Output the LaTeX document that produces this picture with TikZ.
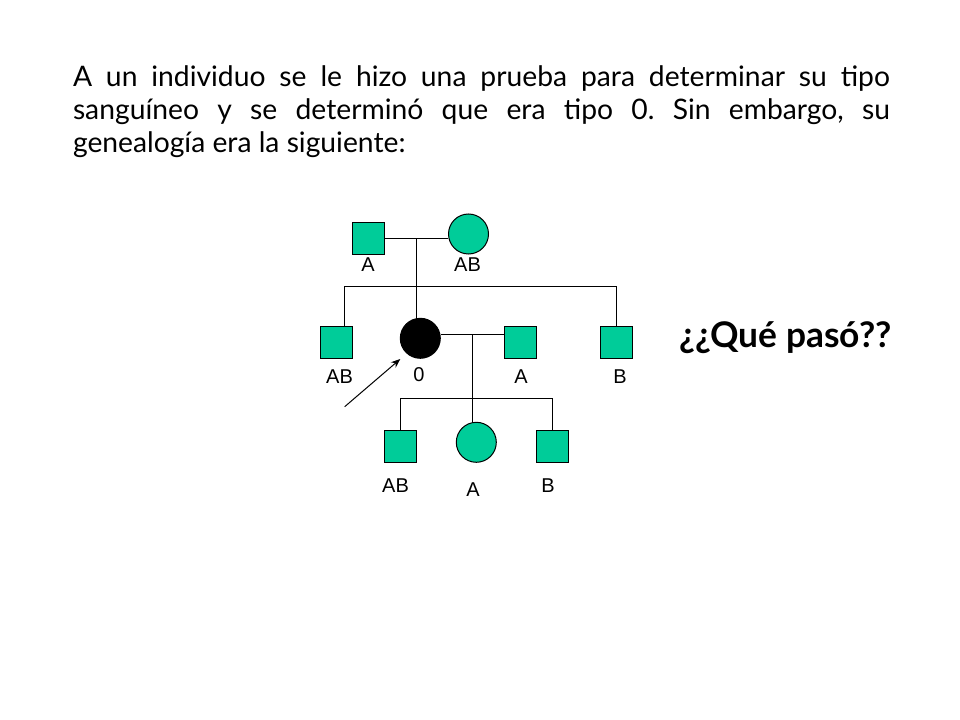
\documentclass[tikz,border=0pt]{standalone}
\usepackage{fontspec}
\setmainfont{Liberation Sans}
\newfontfamily\handfont{Lato}
\usetikzlibrary{arrows.meta}
\definecolor{pedgreen}{RGB}{0,204,153}
\tikzset{
  male/.style={draw,fill=pedgreen,minimum size=24pt,inner sep=0pt,line width=.75pt},
  female/.style={draw,circle,fill=pedgreen,minimum size=30pt,inner sep=0pt,line width=.75pt},
  proband/.style={female,fill=black},
  bloodtype/.style={font=\fontsize{15}{17}\selectfont,inner sep=0pt},
  link/.style={line width=.75pt}
}
\begin{document}
\begin{tikzpicture}[x=.75pt,y=-.75pt]
\useasboundingbox (0,0) rectangle (960,720);
\node (intro) at (481.5,111.5) [text width=612.75pt,align=justify,inner sep=0pt,
  font=\handfont\fontsize{21.2}{24.6}\selectfont]{\frenchspacing A un individuo se le hizo una prueba para determinar su tipo\linebreak
sanguíneo y se determinó que era tipo 0. Sin embargo, su\linebreak
genealogía era la siguiente:};
\node (question) at (785.5,338) [inner sep=0pt,font=\handfont\bfseries\fontsize{26.5}{30}\selectfont]{¿¿Qué pasó??};
% first generation
\node (fatherA) at (368.3,238.3) [male]{};
\node (motherAB) at (468.5,234) [female]{};
% second generation
\node (sonAB) at (336.7,342.3) [male]{};
\node (index) at (420.3,338.3) [proband]{};
\node (husbandA) at (520.3,342.3) [male]{};
\node (sonB) at (616.3,342.3) [male]{};
% third generation
\node (kidAB) at (400.3,446.3) [male]{};
\node (kidA) at (476.3,442.3) [female]{};
\node (kidB) at (552.3,446.3) [male]{};
% junctions
\coordinate (union1) at (416.7,238.3);
\coordinate (bar1) at (416.7,286.7);
\coordinate (union2) at (472.3,334.3);
\coordinate (bar2) at (472.3,398.3);
\coordinate (sonABtop) at (344.7,326.3);
\coordinate (pointer) at (344.7,406.7);
\coordinate (pointertip) at (400.3,359);
% connectors
\draw[link] (fatherA.east)--(union1)--(union1-|motherAB.west);
\draw[link] (union1)--(bar1)--(bar1|-index.north);
\draw[link] (sonABtop)--(sonABtop|-bar1)--(sonB.north|-bar1)--(sonB.north);
\draw[link] (union2-|index.east)--(union2)--(union2-|husbandA.west);
\draw[link] (union2)--(bar2)--(bar2|-kidA.north);
\draw[link] (kidAB.north)--(kidAB.north|-bar2)--(kidB.north|-bar2)--(kidB.north);
\draw[link,-{Stealth[length=7pt,width=5.5pt]}] (pointer)--(pointertip);
% labels
\node (lA) at (368,265) [bloodtype]{A};
\node (lAB) at (467.5,265) [bloodtype]{AB};
\node (lsonAB) at (339.5,377) [bloodtype]{AB};
\node (lindex) at (419,374.5) [bloodtype]{0};
\node (lhusband) at (521,377) [bloodtype]{A};
\node (lsonB) at (620,377) [bloodtype]{B};
\node (lkidAB) at (395.5,486) [bloodtype]{AB};
\node (lkidA) at (473,490) [bloodtype]{A};
\node (lkidB) at (548,486) [bloodtype]{B};
\end{tikzpicture}
\end{document}
